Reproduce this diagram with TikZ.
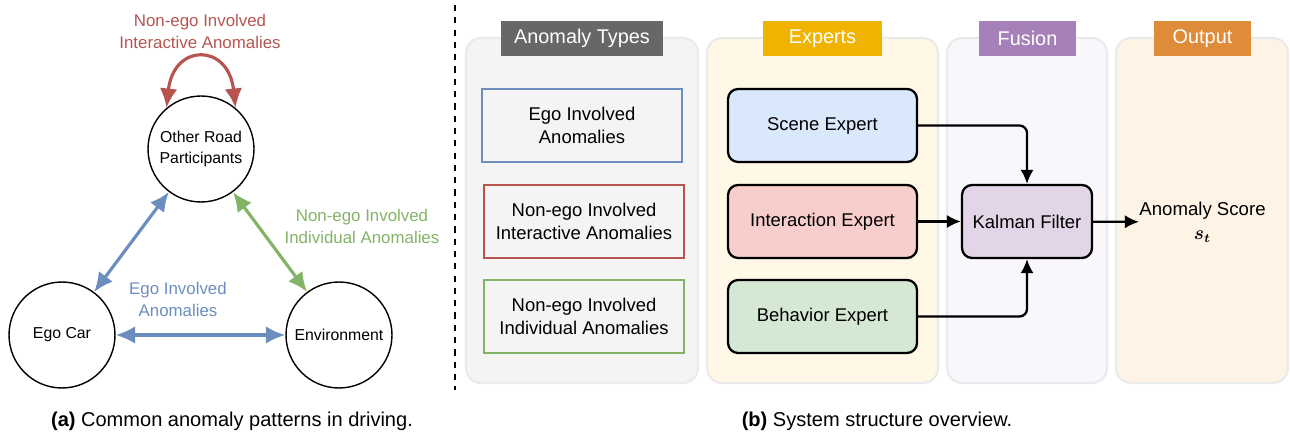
\documentclass[tikz,border=0pt]{standalone}
\usepackage{amsmath,amssymb}
\usepackage{fontspec}
\setmainfont{Liberation Sans}
\usepackage{tikz}
\usetikzlibrary{positioning}
\usetikzlibrary{arrows.meta}
\definecolor{c_blue}{HTML}{6C8EBF}
\definecolor{c_red}{HTML}{B85450}
\definecolor{c_green}{HTML}{82B366}
\definecolor{c_edge}{HTML}{EAEAEA}
\definecolor{fill_types}{HTML}{F4F4F4}
\definecolor{fill_experts}{HTML}{FFF8E7}
\definecolor{fill_fusion}{HTML}{F9F6FC}
\definecolor{fill_output}{HTML}{FEF3E5}
\definecolor{head_types}{HTML}{676767}
\definecolor{head_experts}{HTML}{F0B400}
\definecolor{head_fusion}{HTML}{A680B8}
\definecolor{head_output}{HTML}{DE8B3A}
\definecolor{fill_scene}{HTML}{DAE8FC}
\definecolor{fill_inter}{HTML}{F8CECC}
\definecolor{fill_behav}{HTML}{D5E8D4}
\definecolor{fill_kalman}{HTML}{E1D5E7}
\tikzset{
  road_node/.style={circle, draw, thick, minimum size=2.12cm, inner sep=0, align=center, font=\fontsize{9}{11.5}\selectfont},
  arrow_pattern/.style={{Latex[length=11pt,width=10pt]}-{Latex[length=11pt,width=10pt]}, line width=1.8pt},
  pattern_label/.style={align=center, font=\fontsize{9.6}{12.5}\selectfont},
  group_box/.style={draw=c_edge, line width=1.2pt, rounded corners=0.3cm, minimum height=6.9cm, inner sep=0},
  group_title/.style={text=white, minimum height=0.7cm, inner sep=0, font=\fontsize{11.3}{13}\selectfont},
  type_box/.style={draw, line width=1.2pt, minimum width=4cm, minimum height=1.46cm, align=center, font=\fontsize{10.5}{13}\selectfont},
  expert_box/.style={draw=black, line width=1.3pt, rounded corners=0.2cm, minimum width=3.78cm, minimum height=1.46cm, align=center, font=\fontsize{10.5}{13}\selectfont},
  arrow_flow/.style={-{Latex[length=8pt,width=7.5pt]}, line width=1.3pt, rounded corners=0.15cm},
  caption_text/.style={font=\fontsize{11.4}{13}\selectfont}
}
\begin{document}
\begin{tikzpicture}[x=0.02cm, y=-0.02cm]
\useasboundingbox (0,0) rectangle (1290,435);

%% (a) anomaly patterns
\node[road_node] at (201,149) (other_road) {Other Road\\Participants};
\node[road_node] at (62,335)  (ego_car) {Ego Car};
\node[road_node] at (339,335) (environment) {Environment};

\draw[arrow_pattern, c_red] (other_road.130) .. controls +(7,-65) and +(-7,-65) .. (other_road.50);
\draw[arrow_pattern, c_blue] (ego_car) -- (other_road);
\draw[arrow_pattern, c_green] (other_road) -- (environment);
\draw[arrow_pattern, c_blue] (ego_car) -- (environment);

\node[pattern_label, text=c_red] at (200,31)   (lbl_inter) {Non-ego Involved\\Interactive Anomalies};
\node[pattern_label, text=c_green] at (362,226) (lbl_indiv) {Non-ego Involved\\Individual Anomalies};
\node[pattern_label, text=c_blue] at (178,299)  (lbl_ego) {Ego Involved\\Anomalies};

\node[caption_text] at (232,421) (cap_a) {\textbf{(a)} Common anomaly patterns in driving.};

%% separator
\coordinate (sep_top) at (455,5);
\coordinate (sep_bot) at (455,390);
\draw[line width=1.2pt, dash pattern=on 3.5pt off 3.5pt] (sep_top) -- (sep_bot);

%% (b) system structure
\node[group_box, fill=fill_types, minimum width=4.64cm]   at (582,210.5)  (types_box) {};
\node[group_box, fill=fill_experts, minimum width=4.62cm] at (822.5,210.5) (experts_box) {};
\node[group_box, fill=fill_fusion, minimum width=3.2cm]   at (1027,210.5) (fusion_box) {};
\node[group_box, fill=fill_output, minimum width=3.44cm]  at (1202,210.5) (output_box) {};

\node[group_title, fill=head_types, minimum width=3.24cm]   at (582,38.5)    (types_head) {Anomaly Types};
\node[group_title, fill=head_experts, minimum width=2.38cm] at (822.5,38.5)  (experts_head) {Experts};
\node[group_title, fill=head_fusion, minimum width=1.94cm]  at (1027.5,38.5) (fusion_head) {Fusion};
\node[group_title, fill=head_output, minimum width=1.94cm]  at (1202.5,38.5) (output_head) {Output};

\node[type_box, draw=c_blue]  at (582,125.5) (type_ego) {Ego Involved\\Anomalies};
\node[type_box, draw=c_red]   at (584,221.5) (type_inter) {Non-ego Involved\\Interactive Anomalies};
\node[type_box, draw=c_green] at (584,316.5) (type_indiv) {Non-ego Involved\\Individual Anomalies};

\node[expert_box, fill=fill_scene] at (822.5,125.5) (scene) {Scene Expert};
\node[expert_box, fill=fill_inter] at (822.5,221.5) (interaction) {Interaction Expert};
\node[expert_box, fill=fill_behav] at (822.5,316.5) (behavior) {Behavior Expert};
\node[expert_box, fill=fill_kalman, minimum width=2.6cm] at (1027,221.5) (kalman) {Kalman Filter};

\node[align=center, inner sep=0, font=\fontsize{10.6}{14}\selectfont] at (1202.5,222) (score) {Anomaly Score\\$\boldsymbol{s_t}$};

\draw[arrow_flow] (scene.east) -| (kalman.north);
\draw[arrow_flow] (interaction) -- (kalman);
\draw[arrow_flow] (behavior.east) -| (kalman.south);
\draw[arrow_flow] (kalman) -- (score);

\node[caption_text] at (877,421) (cap_b) {\textbf{(b)} System structure overview.};

\end{tikzpicture}
\end{document}
